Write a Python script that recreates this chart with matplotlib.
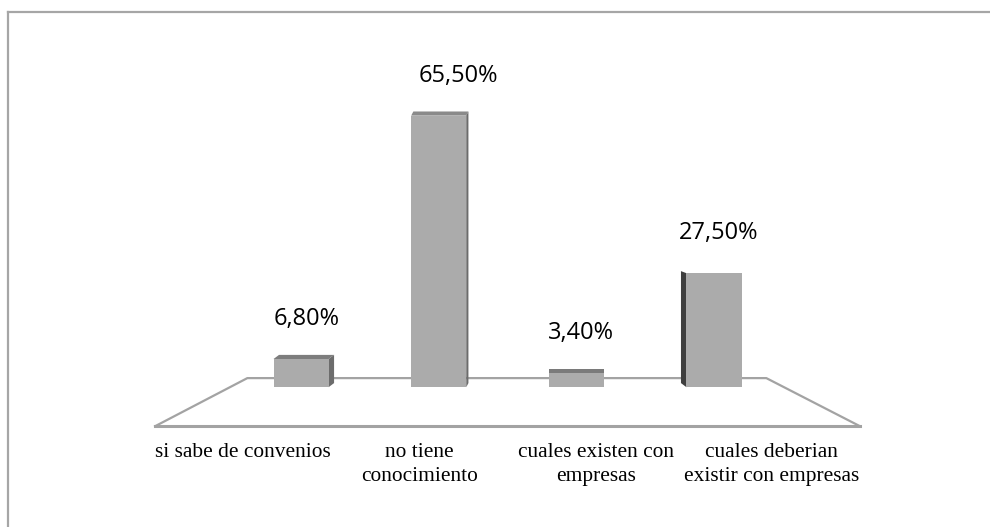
import matplotlib.pyplot as plt
from matplotlib.patches import Polygon
from matplotlib.lines import Line2D

# data
categories = ['si sabe de convenios', 'no tiene\nconocimiento',
              'cuales existen con\nempresas', 'cuales deberian\nexistir con empresas']
values = [6.8, 65.5, 3.4, 27.5]
value_labels = ['6,80%', '65,50%', '3,40%', '27,50%']

# look
FRONT = '#ababab'
LINE = '#a3a3a3'
BAR_W = 0.40
DX, DY = 0.04, 1.0          # fake 3d depth in data units
faces = ['right', 'right', 'top', 'left']
face_colors = {'right': '#6c6c6c', 'top': '#7a7a7a', 'left': '#3e3e3e'}
depth_scale = [1.0, 0.4, 1.0, 1.0]
label_dx = [6, 20, 5, 5]    # pixel nudges of the value labels

fig = plt.figure(figsize=(9.9, 5.27), dpi=100)
ax = fig.add_axes([0.0955, 0.1708, 0.8343, 0.6452])
ax.set_xlim(-1.5, 4.5)
ax.set_ylim(-12, 70)
ax.axis('off')

n = len(values)
xs = list(range(n))

# floor (perspective plane)
back_y, front_y = 2.2, -9.4
bl, br = -0.39, n - 1 + 0.38
fl, fr = -1.06, n - 1 + 1.06
ax.plot([fl, bl, br, fr], [front_y, back_y, back_y, front_y], color=LINE, lw=1.6, zorder=1)
ax.plot([fl, fr], [front_y, front_y], color=LINE, lw=2.2, zorder=1)

# bars
ax.bar(xs, values, width=BAR_W, color=FRONT, zorder=3)

for x, v, face, k in zip(xs, values, faces, depth_scale):
    l, r = x - BAR_W / 2, x + BAR_W / 2
    dx = DX * k
    if face == 'right':
        side = [(r, 0), (r + dx, DY), (r + dx, v + DY), (r, v)]
        top = [(l, v), (l + dx, v + DY), (r + dx, v + DY), (r, v)]
        ax.add_patch(Polygon(top, closed=True, color='#8a8a8a' if k < 1 else '#7d7d7d',
                             lw=0, zorder=2))
    elif face == 'left':
        side = [(l, 0), (l - dx, DY), (l - dx, v + DY * 0.5), (l, v)]
    else:
        side = [(l, v), (l, v + DY), (r, v + DY), (r, v)]
    ax.add_patch(Polygon(side, closed=True, color=face_colors[face], lw=0, zorder=2))

# value labels
for x, v, lab, nudge in zip(xs, values, value_labels, label_dx):
    ax.annotate(lab, (x, v), xytext=(nudge, 40), textcoords='offset pixels',
                ha='center', va='center', fontsize=17, family='Open Sans', color='black')

# category labels along the front edge of the floor
seg = (fr - fl) / n
for i, cat in enumerate(categories):
    cx = fl + seg * (i + 0.5)
    ax.annotate(cat, (cx, front_y), xytext=(0, -17), textcoords='offset pixels',
                ha='center', va='top', fontsize=15.4, family='Liberation Serif',
                linespacing=1.32, annotation_clip=False)

# frame (only top and left edges show)
fig.add_artist(Line2D([8 / 990, 1], [1 - 12 / 527] * 2, color='#a6a6a6', lw=1.6))
fig.add_artist(Line2D([8 / 990] * 2, [0, 1 - 12 / 527], color='#a6a6a6', lw=1.6))

fig.savefig('out.png', dpi=100, facecolor='white')
